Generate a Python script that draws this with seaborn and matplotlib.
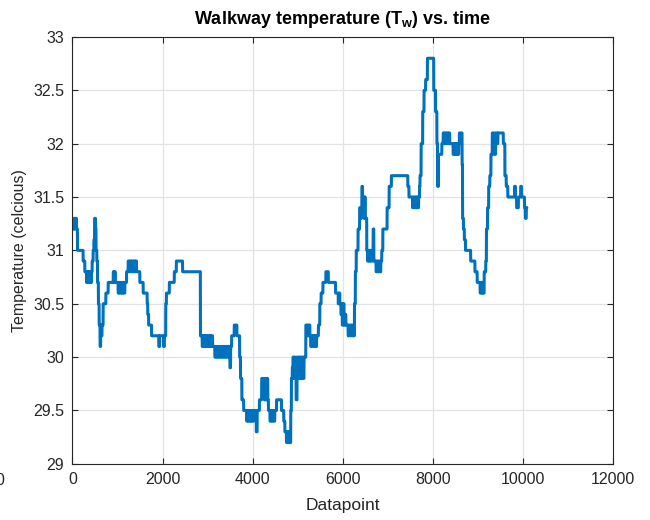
import numpy as np
import pandas as pd
import matplotlib
matplotlib.use("Agg")
import matplotlib.pyplot as plt
import seaborn as sns

# Temperature log stored as a step signal: index where each reading level starts
step_start = [
    0, 15, 30, 45, 60,
    89, 111, 236, 273, 311,
    330, 345, 365, 380, 400,
    410, 422, 436, 458, 475,
    490, 512, 522, 540, 555,
    575, 592, 612, 625, 640,
    655, 680,
    740, 792, 905, 920, 935,
    950, 1013, 1030, 1050, 1075,
    1095, 1120, 1140, 1162, 1200,
    1236, 1260, 1275, 1300, 1315,
    1345, 1360, 1390, 1400, 1422,
    1495, 1569, 1658, 1670, 1690,
    1755, 1915, 1935, 2020, 2040,
    2070, 2085, 2150, 2260, 2305,
    2444, 2840,
    2880, 2895, 2915, 2930, 2950,
    2970, 2990, 3010, 3030, 3050,
    3070, 3090, 3110, 3160, 3180,
    3200, 3225, 3245, 3270, 3290,
    3315, 3335, 3360, 3380, 3405,
    3425, 3450, 3470, 3495, 3510,
    3533, 3591, 3650, 3710, 3730,
    3760, 3800, 3866, 3885, 3905,
    3925, 3950, 3975, 3995, 4020,
    4080, 4100, 4150, 4200, 4220,
    4240, 4260, 4280, 4300, 4320,
    4335, 4350, 4384, 4400, 4425,
    4445, 4470, 4490, 4530, 4640,
    4690, 4715, 4750, 4770, 4790,
    4805, 4820, 4845, 4860,
    4880, 4895, 4910, 4925, 4945,
    4965, 4985, 5000, 5020, 5040,
    5060, 5080, 5100, 5120, 5140,
    5180, 5200, 5215, 5235, 5250,
    5270, 5290, 5305, 5325, 5345,
    5365, 5385, 5400, 5420, 5460,
    5490, 5520, 5560, 5625, 5680,
    5840, 5900, 5920, 5935, 5960,
    5975, 5990, 6010, 6030, 6050,
    6070, 6120, 6140, 6160, 6180,
    6200, 6225, 6240,
    6260, 6280, 6300, 6340, 6375,
    6395, 6410, 6425, 6440, 6455,
    6470, 6485, 6500, 6533, 6550,
    6570, 6590, 6610, 6630, 6660,
    6675, 6690, 6740, 6760, 6780,
    6800, 6820, 6845, 6866, 6890,
    6985, 7030, 7080, 7444, 7470,
    7550, 7570, 7590, 7610, 7630,
    7650, 7665, 7685, 7705, 7715,
    7740, 7775, 7805, 7840, 7880,
    8020, 8060, 8090, 8105, 8125,
    8200, 8230, 8250, 8270, 8290,
    8310, 8330, 8350, 8375, 8450,
    8470, 8490, 8510, 8530, 8545,
    8560, 8575, 8590, 8650, 8660,
    8680, 8700, 8725, 8840, 8935,
    8985, 9050, 9070, 9090, 9105,
    9120, 9140, 9175, 9190, 9215,
    9240, 9265, 9290, 9320, 9360,
    9395, 9430, 9445, 9565, 9600,
    9630, 9665, 9815, 9835, 9860,
    9900, 9950, 9970, 10035, 10055,
    10075,
]

# Walkway temperature (deg C) held from each step_start onwards
temp_level = [
    31.3, 31.2, 31.3, 31.2, 31.3,
    31.2, 31.0, 30.9, 30.8, 30.7,
    30.8, 30.7, 30.8, 30.7, 30.8,
    30.7, 30.8, 30.9, 31.0, 31.1,
    31.3, 31.2, 31.0, 30.9, 30.7,
    30.5, 30.3, 30.1, 30.3, 30.2,
    30.3, 30.5,
    30.6, 30.7, 30.8, 30.7, 30.8,
    30.7, 30.6, 30.7, 30.6, 30.7,
    30.6, 30.7, 30.6, 30.7, 30.8,
    30.9, 30.8, 30.9, 30.8, 30.9,
    30.8, 30.9, 30.8, 30.9, 30.8,
    30.7, 30.6, 30.5, 30.4, 30.3,
    30.2, 30.1, 30.2, 30.1, 30.2,
    30.5, 30.6, 30.7, 30.8, 30.9,
    30.8, 30.2,
    30.1, 30.2, 30.1, 30.2, 30.1,
    30.2, 30.1, 30.2, 30.1, 30.2,
    30.1, 30.2, 30.1, 30.0, 30.1,
    30.0, 30.1, 30.0, 30.1, 30.0,
    30.1, 30.0, 30.1, 30.0, 30.1,
    30.0, 30.1, 30.0, 29.9, 30.1,
    30.2, 30.3, 30.2, 30.0, 29.8,
    29.6, 29.5, 29.4, 29.5, 29.4,
    29.5, 29.4, 29.5, 29.4, 29.5,
    29.3, 29.5, 29.6, 29.8, 29.7,
    29.8, 29.6, 29.8, 29.6, 29.8,
    29.6, 29.5, 29.4, 29.5, 29.4,
    29.5, 29.4, 29.5, 29.6, 29.5,
    29.4, 29.3, 29.2, 29.3, 29.2,
    29.3, 29.2, 29.5, 29.8,
    29.9, 30.0, 29.8, 30.0, 29.8,
    29.6, 30.0, 29.8, 30.0, 29.8,
    30.0, 29.8, 30.0, 29.8, 30.0,
    30.3, 30.2, 30.3, 30.2, 30.3,
    30.2, 30.1, 30.2, 30.1, 30.2,
    30.1, 30.2, 30.1, 30.2, 30.3,
    30.5, 30.6, 30.7, 30.8, 30.7,
    30.6, 30.5, 30.6, 30.5, 30.4,
    30.5, 30.3, 30.5, 30.3, 30.4,
    30.3, 30.2, 30.3, 30.2, 30.3,
    30.2, 30.3, 30.2,
    30.5, 30.8, 31.0, 31.2, 31.4,
    31.3, 31.4, 31.6, 31.4, 31.5,
    31.3, 31.5, 31.3, 31.0, 30.9,
    31.0, 30.9, 31.0, 30.9, 31.0,
    31.2, 30.9, 30.8, 30.9, 30.8,
    30.9, 30.8, 30.9, 31.0, 31.2,
    31.4, 31.6, 31.7, 31.6, 31.5,
    31.4, 31.5, 31.4, 31.5, 31.4,
    31.5, 31.4, 31.5, 31.6, 31.7,
    32.0, 32.3, 32.5, 32.6, 32.8,
    32.5, 32.3, 32.0, 31.6, 31.9,
    32.0, 32.1, 32.0, 32.1, 32.0,
    32.1, 32.0, 32.1, 32.0, 31.9,
    32.0, 31.9, 32.0, 31.9, 32.0,
    31.9, 32.0, 32.1, 31.8, 31.3,
    31.2, 31.1, 31.0, 30.9, 30.8,
    30.7, 30.6, 30.7, 30.6, 30.7,
    30.6, 30.8, 30.9, 31.2, 31.4,
    31.6, 31.7, 31.9, 32.1, 31.9,
    32.1, 32.0, 32.1, 32.0, 31.7,
    31.6, 31.5, 31.6, 31.5, 31.4,
    31.5, 31.6, 31.5, 31.4, 31.3,
    31.4,
]

n_points = 10090

x_ticks = [0, 2000, 4000, 6000, 8000, 10000, 12000]
x_tick_labels = ["0", "2000", "4000", "6000", "8000", "10000", "12000"]
y_ticks = [29, 29.5, 30, 30.5, 31, 31.5, 32, 32.5, 33]
y_tick_labels = ["29", "29.5", "30", "30.5", "31", "31.5", "32", "32.5", "33"]

# Expand the step description into one reading per datapoint
idx = np.arange(n_points)
level_idx = np.searchsorted(np.array(step_start), idx, side="right") - 1
df = pd.DataFrame({"Datapoint": idx, "Temperature": np.array(temp_level)[level_idx]})

sns.set_style("ticks")
plt.rcParams.update({
    "axes.edgecolor": "#262626",
    "axes.linewidth": 0.8,
    "xtick.color": "#262626",
    "ytick.color": "#262626",
    "text.color": "#262626",
    "axes.labelcolor": "#262626",
    "mathtext.fontset": "custom",
    "mathtext.rm": "Liberation Sans",
    "mathtext.bf": "Liberation Sans:bold",
})
plt.rcParams["font.family"] = ["Liberation Sans", "DejaVu Sans"]

fig = plt.figure(figsize=(6.5, 5.2), dpi=100)
ax = fig.add_axes([0.1115, 0.108, 0.8315, 0.821])

sns.lineplot(data=df, x="Datapoint", y="Temperature", ax=ax,
             color="#0072BD", linewidth=2.2, estimator=None)

ax.set_xlim(0, 12000)
ax.set_ylim(29, 33)
ax.set_xticks(x_ticks)
ax.set_xticklabels(x_tick_labels)
ax.set_yticks(y_ticks)
ax.set_yticklabels(y_tick_labels)
ax.set_axisbelow(True)
ax.grid(True, color="#e3e3e3", linewidth=0.9)
ax.tick_params(direction="in", top=True, right=True, length=4, width=0.8,
               labelsize=11.5, pad=6)
for side in ax.spines.values():
    side.set_visible(True)
    side.set_color("#262626")
    side.set_linewidth(0.8)

ax.set_xlabel("Datapoint", fontsize=12.5, labelpad=8)
ax.set_ylabel("Temperature (celcious)", fontsize=11.5, labelpad=4)
ax.set_title(r"Walkway temperature (T$_{\mathbf{w}}$) vs. time",
             fontsize=13, fontweight="bold", color="black", pad=9)

# Stray tick label partly outside the left edge of the canvas
fig.text(0.0, 0.0765, "0", fontsize=11.5, ha="center", va="center", color="#262626")

fig.savefig("out.png", dpi=100)
